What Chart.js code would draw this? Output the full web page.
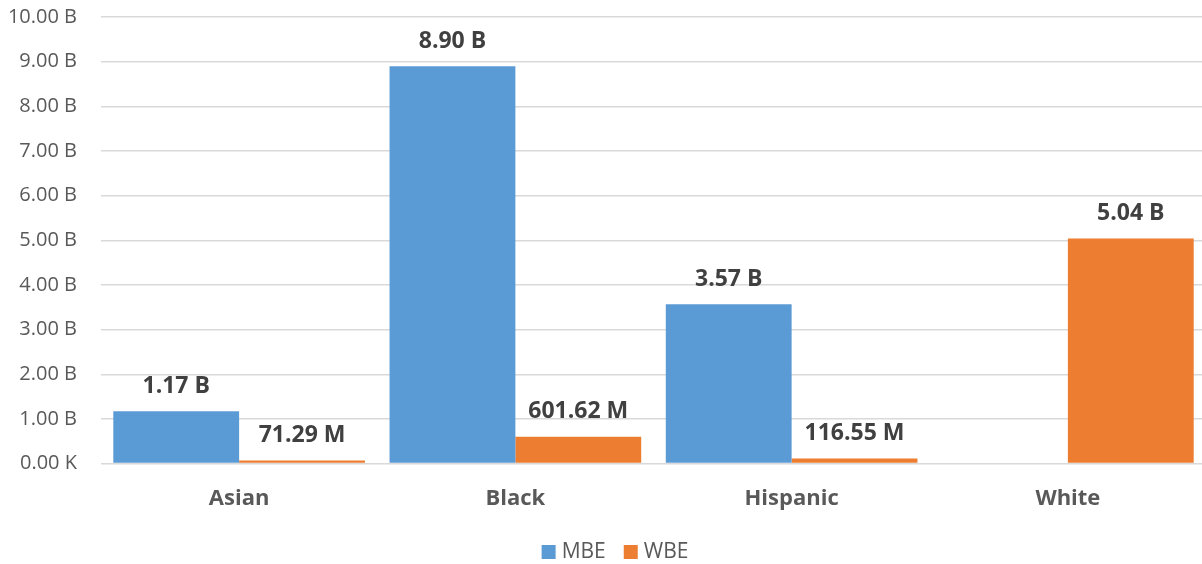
<!DOCTYPE html>
<html><head><meta charset="utf-8">
<script src="https://cdn.jsdelivr.net/npm/chart.js@4/dist/chart.umd.min.js"></script>
<style>
html,body{margin:0;padding:0;background:#fff;overflow:hidden;}
#wrap{position:relative;width:1206px;height:564px;overflow:hidden;}
#c{position:absolute;left:0;top:-19px;}
</style></head><body>
<div id="wrap"><canvas id="c" width="1206" height="583"></canvas></div>
<script>
const categories = ["Asian", "Black", "Hispanic", "White"];
const mbeValues = [1.17e9, 8.90e9, 3.57e9, null];
const wbeValues = [71.29e6, 601.62e6, 116.55e6, 5.04e9];
const seriesNames = ["MBE", "WBE"];
const seriesColors = ['#5B9BD5', '#ED7D31'];
const yTickMax = 10e9;
const yTickStep = 1e9;

const FONT = "'Open Sans', sans-serif";

function fmtTick(v){
  if (v === 0) return "0.00 K";
  return (v/1e9).toFixed(2) + " B";
}
function fmtLabel(v){
  if (v >= 1e9) return (v/1e9).toFixed(2) + " B";
  if (v >= 1e6) return (v/1e6).toFixed(2) + " M";
  return (v/1e3).toFixed(2) + " K";
}

const dataLabels = {
  id: 'dataLabels',
  afterDatasetsDraw(chart){
    const ctx = chart.ctx;
    ctx.save();
    ctx.font = "bold 23px " + FONT;
    ctx.fillStyle = "#404040";
    ctx.textAlign = "center";
    ctx.textBaseline = "middle";
    chart.data.datasets.forEach((ds, i) => {
      const meta = chart.getDatasetMeta(i);
      meta.data.forEach((bar, j) => {
        const v = ds.data[j];
        if (v === null || v === undefined) return;
        ctx.fillText(fmtLabel(v), bar.x, bar.y - 25);
      });
    });
    ctx.restore();
  }
};

const bottomLegend = {
  id: 'bottomLegend',
  afterDraw(chart){
    const ctx = chart.ctx;
    ctx.save();
    ctx.font = "21px " + FONT;
    ctx.textBaseline = "middle";
    const box = 14, gapBoxText = 6, gapItems = 18;
    const items = chart.data.datasets.map(ds => ({ label: ds.label, color: ds.backgroundColor, w: ctx.measureText(ds.label).width }));
    const total = items.reduce((s, it) => s + box + gapBoxText + it.w, 0) + gapItems * (items.length - 1);
    let x = 615 - total / 2;
    const cy = chart.height - 12;
    items.forEach(it => {
      ctx.fillStyle = it.color;
      ctx.fillRect(x, cy - box / 2, box, box);
      x += box + gapBoxText;
      ctx.fillStyle = '#595959';
      ctx.fillText(it.label, x, cy);
      x += it.w + gapItems;
    });
    ctx.restore();
  }
};

new Chart(document.getElementById('c'), {
  type: 'bar',
  data: {
    labels: categories,
    datasets: [
      { label: seriesNames[0], data: mbeValues, backgroundColor: seriesColors[0] },
      { label: seriesNames[1], data: wbeValues, backgroundColor: seriesColors[1] }
    ]
  },
  options: {
    responsive: false,
    animation: false,
    devicePixelRatio: 1,
    layout: { padding: { top: 4, right: 0, bottom: 38, left: 0 } },
    datasets: { bar: { categoryPercentage: 0.911, barPercentage: 1.0, borderWidth: 0 } },
    scales: {
      x: {
        grid: { display: false },
        border: { display: false },
        ticks: { color: '#595959', font: { family: FONT, size: 22, weight: 'bold' }, padding: 14 }
      },
      y: {
        min: 0, max: yTickMax,
        afterFit(s){ s.width = 101; },
        grid: { color: '#d9d9d9', lineWidth: 1.5, drawTicks: false },
        border: { display: false },
        ticks: { stepSize: yTickStep, color: '#595959', font: { family: FONT, size: 20 }, padding: 24, callback: fmtTick }
      }
    },
    plugins: {
      legend: { display: false },
      tooltip: { enabled: false }
    }
  },
  plugins: [dataLabels, bottomLegend]
});
</script>
</body></html>
